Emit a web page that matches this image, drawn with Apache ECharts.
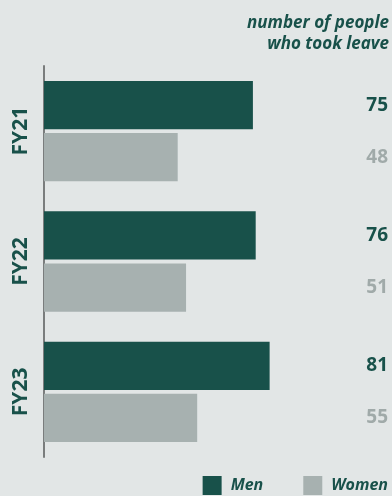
<!DOCTYPE html>
<html>
<head>
<meta charset="utf-8">
<style>
  html, body { margin: 0; padding: 0; background: #e2e6e6; }
  #chart { width: 392px; height: 496px; }
</style>
<script src="https://cdn.jsdelivr.net/npm/echarts@6/dist/echarts.min.js"></script>
</head>
<body>
<div id="chart"></div>
<script>
// Parental leave taken, by fiscal year
const years = ['FY21', 'FY22', 'FY23'];
const men = [75, 76, 81];
const women = [48, 51, 55];

const DARK = '#18514a';
const GREY = '#a7b1b0';
const FONT = '"Open Sans", "Noto Sans", sans-serif';

const chart = echarts.init(document.getElementById('chart'), null, { renderer: 'canvas' });

const valueLabel = (color) => ({
  show: true,
  position: 'right',
  color: color,
  fontFamily: FONT,
  fontWeight: 'bold',
  fontSize: 19,
  formatter: '{c}'
});

// value labels sit in one right-aligned column at the chart's right edge
const rightColumn = { x: 388, align: 'right', verticalAlign: 'middle' };

chart.setOption({
  backgroundColor: '#e2e6e6',
  animation: false,
  title: {
    text: 'number of people\nwho took leave',
    left: 389,
    top: 13,
    padding: 0,
    textAlign: 'right',
    textStyle: {
      color: DARK,
      fontFamily: FONT,
      fontStyle: 'italic',
      fontWeight: 'bold',
      fontSize: 17,
      lineHeight: 21
    }
  },
  legend: {
    data: ['Men', 'Women'],
    right: 4,
    top: 476,
    padding: 0,
    itemWidth: 19,
    itemHeight: 19,
    itemGap: 40,
    icon: 'rect',
    textStyle: {
      color: DARK,
      fontFamily: FONT,
      fontStyle: 'italic',
      fontWeight: 'bold',
      fontSize: 16,
      padding: [0, 0, 0, 4]
    }
  },
  grid: { left: 44, right: 4, top: 66, height: 391, containLabel: false },
  xAxis: {
    type: 'value',
    min: 0,
    max: 123.5,
    show: false
  },
  yAxis: {
    type: 'category',
    data: years,
    inverse: true,
    axisLine: { show: true, lineStyle: { color: '#7a7d7d', width: 2 } },
    axisTick: { show: false },
    axisLabel: {
      rotate: 90,
      margin: 12,
      color: DARK,
      fontFamily: FONT,
      fontWeight: 'bold',
      fontSize: 21
    }
  },
  series: [
    {
      name: 'Men',
      type: 'bar',
      data: men,
      itemStyle: { color: DARK },
      barGap: '8%',
      barCategoryGap: '23%',
      label: valueLabel(DARK),
      labelLayout: rightColumn
    },
    {
      name: 'Women',
      type: 'bar',
      data: women,
      itemStyle: { color: GREY },
      label: valueLabel('#a0aaa9'),
      labelLayout: rightColumn
    }
  ]
});
</script>
</body>
</html>
